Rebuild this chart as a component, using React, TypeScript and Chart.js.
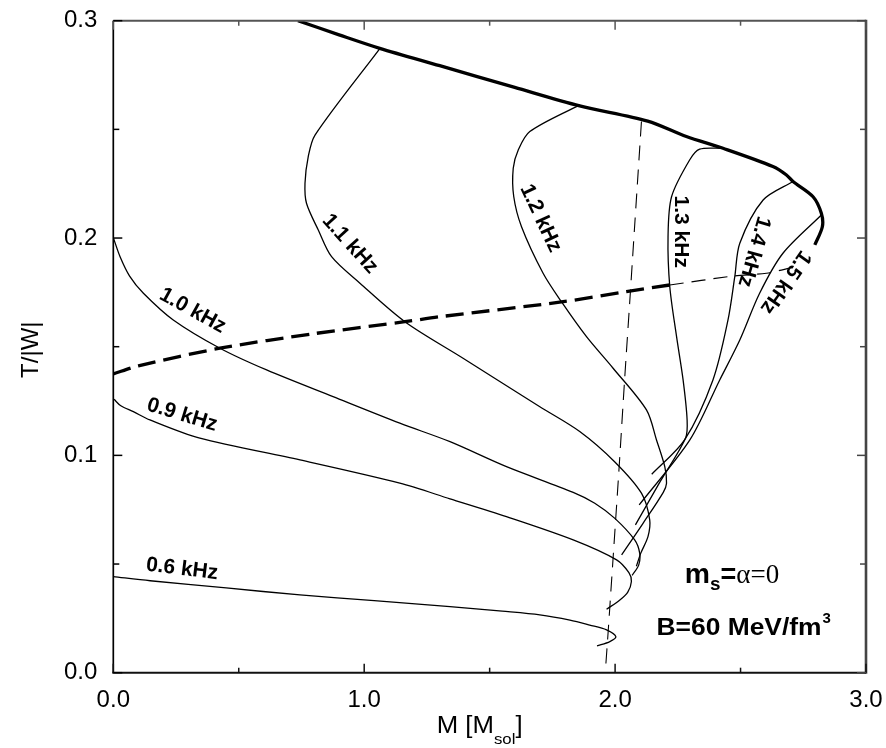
import React, { useEffect, useRef } from 'react';
import { Chart, registerables } from 'chart.js';

Chart.register(...registerables);

// ---------- data (M [M_sol], T/|W|) ----------
const f06: number[][] = [
  [0, 0.0442], [0.147, 0.0423], [0.45, 0.039], [0.744, 0.0358], [1.04, 0.0332], [1.342, 0.0304],
  [1.55, 0.0283], [1.7, 0.0266], [1.82, 0.0242], [1.899, 0.0219], [1.966, 0.0197], [2.003, 0.0166],
  [1.979, 0.0143], [1.928, 0.0123],
];
const f09: number[][] = [
  [0.003, 0.1258], [0.03, 0.1228], [0.08, 0.1201], [0.146, 0.1163], [0.345, 0.1079], [0.744, 0.0979],
  [1.142, 0.0872], [1.342, 0.08], [1.567, 0.0718], [1.833, 0.0611], [2.006, 0.0519], [2.055, 0.046],
  [2.065, 0.042], [2.05, 0.037], [2.019, 0.0335], [1.966, 0.0292],
];
const f10: number[][] = [
  [0, 0.2002], [0.027, 0.1914], [0.065, 0.1825], [0.12, 0.1746], [0.239, 0.1623], [0.425, 0.1493],
  [0.611, 0.1393], [0.876, 0.127], [1.142, 0.1148], [1.342, 0.1063], [1.567, 0.0948], [1.833, 0.083],
  [1.919, 0.078], [1.999, 0.071], [2.078, 0.0611], [2.098, 0.055], [2.094, 0.0495], [2.068, 0.0448],
];
const f11: number[][] = [
  [1.063, 0.2873], [0.804, 0.2474], [0.777, 0.2375], [0.764, 0.2252], [0.77, 0.216], [0.817, 0.2037],
  [0.87, 0.1914], [0.983, 0.1792], [1.162, 0.1615], [1.394, 0.1447], [1.52, 0.1355], [1.7, 0.1224],
  [1.859, 0.111], [1.998, 0.0971], [2.105, 0.0826], [2.138, 0.0703], [2.131, 0.0626], [2.102, 0.0549],
  [2.085, 0.049],
];
const f12: number[][] = [
  [1.859, 0.2613], [1.66, 0.249], [1.614, 0.2405], [1.594, 0.2321], [1.596, 0.2191], [1.627, 0.2052],
  [1.713, 0.1838], [1.786, 0.1707], [1.886, 0.1546], [1.992, 0.1401], [2.125, 0.1209], [2.165, 0.1071],
  [2.198, 0.0948], [2.205, 0.0872], [2.192, 0.083], [2.11, 0.0685], [2.026, 0.0542],
];
const f13: number[][] = [
  [2.43, 0.2413], [2.337, 0.2409], [2.297, 0.2359], [2.225, 0.219], [2.211, 0.2006], [2.218, 0.1776],
  [2.245, 0.1546], [2.271, 0.1347], [2.287, 0.1163], [2.281, 0.108], [2.18, 0.088], [2.081, 0.068],
];
const f14: number[][] = [
  [2.709, 0.226], [2.59, 0.2175], [2.497, 0.1976], [2.477, 0.1822], [2.45, 0.1623], [2.39, 0.1347],
  [2.277, 0.1071], [2.146, 0.0913],
];
const f15: number[][] = [
  [2.822, 0.2106], [2.669, 0.193], [2.576, 0.1746], [2.497, 0.1531], [2.417, 0.1347], [2.298, 0.1071],
  [2.096, 0.0772],
];
const massShedding: number[][] = [
  [0.736, 0.3], [0.9, 0.2935], [1.062, 0.2873], [1.301, 0.2793], [1.6, 0.2693], [1.859, 0.2608],
  [2.13, 0.2538], [2.284, 0.2467], [2.43, 0.2413], [2.629, 0.2329], [2.683, 0.229], [2.709, 0.226],
  [2.789, 0.219], [2.822, 0.2114], [2.826, 0.2052], [2.796, 0.1968],
];
const instabilityThick: number[][] = [
  [0, 0.1375], [0.1, 0.1412], [0.425, 0.1493], [0.8, 0.156], [1.162, 0.1615], [1.302, 0.1638],
  [1.793, 0.1707], [2.045, 0.1753], [2.218, 0.1784],
];
const instabilityThin: number[][] = [
  [2.218, 0.1784], [2.47, 0.1825], [2.603, 0.1838], [2.69, 0.186],
];
const verticalDashed: number[][] = [
  [2.105, 0.2536], [2.079, 0.2075], [2.058, 0.17], [2.038, 0.135], [2.016, 0.0945], [1.993, 0.0545],
  [1.973, 0.02], [1.962, 0.002],
];

const freqLabels = ['0.6 kHz', '0.9 kHz', '1.0 kHz', '1.1 kHz', '1.2 kHz', '1.3 kHz', '1.4 kHz', '1.5 kHz'];
const labelM = [0.274, 0.274, 0.316, 0.943, 1.703, 2.261, 2.553, 2.679];
const labelTW = [0.0477, 0.1186, 0.1666, 0.1973, 0.2091, 0.2029, 0.1937, 0.1797];
const labelAngle = [7, 17, 29, 48, 65, 90, 106, 125];

const xTickLabels = ['0.0', '1.0', '2.0', '3.0'];
const yTickLabels = ['0.0', '0.1', '0.2', '0.3'];

const SANS = '"Liberation Sans", Arial, sans-serif';
const SERIF = '"Liberation Serif", "Times New Roman", serif';

const toXY = (pts: number[][]) => pts.map(([x, y]) => ({ x, y }));

const isMajorX = (v: number) => Math.abs(v - Math.round(v)) < 1e-6;
const isMajorY = (v: number) => Math.abs(v * 10 - Math.round(v * 10)) < 1e-6;

const decorPlugin = {
  id: 'decor',
  afterDraw(chart: any) {
    const { ctx, chartArea: a, scales } = chart;
    const xs = scales.x;
    const ys = scales.y;
    ctx.save();
    ctx.lineCap = 'butt';

    // frame
    ctx.strokeStyle = '#555';
    ctx.lineWidth = 2;
    ctx.beginPath();
    ctx.moveTo(a.left, a.top);
    ctx.lineTo(a.right, a.top);
    ctx.stroke();
    ctx.strokeStyle = '#444';
    ctx.lineWidth = 2.6;
    ctx.beginPath();
    ctx.moveTo(a.right, a.top - 1);
    ctx.lineTo(a.right, a.bottom + 1);
    ctx.stroke();
    ctx.strokeStyle = '#000';
    ctx.lineWidth = 1.7;
    ctx.beginPath();
    ctx.moveTo(a.left, a.top);
    ctx.lineTo(a.left, a.bottom);
    ctx.stroke();
    ctx.strokeStyle = '#111';
    ctx.lineWidth = 2;
    ctx.beginPath();
    ctx.moveTo(a.left - 1, a.bottom);
    ctx.lineTo(a.right, a.bottom);
    ctx.stroke();

    // inward ticks
    ctx.lineWidth = 1.5;
    xs.ticks.forEach((t: any) => {
      const px = xs.getPixelForValue(t.value);
      const len = isMajorX(t.value) ? 9 : 5;
      ctx.strokeStyle = '#111';
      ctx.beginPath();
      ctx.moveTo(px, a.bottom);
      ctx.lineTo(px, a.bottom - len);
      ctx.stroke();
      ctx.strokeStyle = '#555';
      ctx.beginPath();
      ctx.moveTo(px, a.top);
      ctx.lineTo(px, a.top + len);
      ctx.stroke();
    });
    ys.ticks.forEach((t: any) => {
      const py = ys.getPixelForValue(t.value);
      const len = isMajorY(t.value) ? 9 : 6;
      ctx.strokeStyle = '#000';
      ctx.beginPath();
      ctx.moveTo(a.left, py);
      ctx.lineTo(a.left + len, py);
      ctx.stroke();
      ctx.strokeStyle = '#444';
      ctx.beginPath();
      ctx.moveTo(a.right, py);
      ctx.lineTo(a.right - len, py);
      ctx.stroke();
    });

    ctx.fillStyle = '#000';

    // curve labels
    ctx.font = `bold 21px ${SANS}`;
    ctx.textAlign = 'center';
    ctx.textBaseline = 'middle';
    freqLabels.forEach((txt, i) => {
      const px = xs.getPixelForValue(labelM[i]);
      const py = ys.getPixelForValue(labelTW[i]);
      ctx.save();
      ctx.translate(px, py);
      ctx.rotate((labelAngle[i] * Math.PI) / 180);
      ctx.fillText(txt, 0, 0);
      ctx.restore();
    });

    // helper for horizontally stretched text
    ctx.textAlign = 'left';
    ctx.textBaseline = 'alphabetic';
    const put = (txt: string, font: string, x: number, y: number, sx: number) => {
      ctx.font = font;
      const w = ctx.measureText(txt).width * sx;
      ctx.save();
      ctx.translate(x, y);
      ctx.scale(sx, 1);
      ctx.fillText(txt, 0, 0);
      ctx.restore();
      return w;
    };

    // annotation: m_s = alpha = 0
    let ax = xs.getPixelForValue(2.278);
    const ay = ys.getPixelForValue(0.0411);
    ax += put('m', `bold 27px ${SANS}`, ax, ay, 1.05);
    ax += put('s', `bold 18px ${SANS}`, ax, ay + 7, 1.05);
    ax += put('=', `bold 27px ${SANS}`, ax, ay, 1.0);
    put('\u03b1=0', `27px ${SERIF}`, ax, ay, 1.0);

    // annotation: B = 60 MeV/fm^3
    let bx = xs.getPixelForValue(2.165);
    const by = ys.getPixelForValue(0.01735);
    bx += put('B=60 MeV/fm', `bold 24px ${SANS}`, bx, by, 1.1);
    put('3', `bold 15px ${SANS}`, bx + 1, by - 12, 1.0);

    // x axis title
    const mainF = `23px ${SANS}`;
    const subF = `15px ${SANS}`;
    ctx.font = mainF;
    const w1 = ctx.measureText('M [M').width * 1.12;
    const w3 = ctx.measureText(']').width * 1.12;
    ctx.font = subF;
    const w2 = ctx.measureText('sol').width * 1.12;
    const cx = (a.left + a.right) / 2 - 10;
    let tx = cx - (w1 + w2 + w3) / 2;
    const tb = 733;
    tx += put('M [M', mainF, tx, tb, 1.12);
    tx += put('sol', subF, tx, tb + 11, 1.12);
    put(']', mainF, tx, tb, 1.12);

    // y axis title
    ctx.save();
    ctx.translate(31, (a.top + a.bottom) / 2 + 3);
    ctx.rotate(-Math.PI / 2);
    ctx.font = `24px ${SANS}`;
    ctx.textAlign = 'center';
    ctx.textBaseline = 'middle';
    ctx.fillText('T/|W|', 0, 0);
    ctx.restore();

    ctx.restore();
  },
};

const thin = (pts: number[][]) => ({
  data: toXY(pts),
  showLine: true,
  borderColor: '#000',
  borderWidth: 1.3,
  pointRadius: 0,
  tension: 0.3,
  fill: false,
});

export default function App() {
  const ref = useRef<HTMLCanvasElement>(null);

  useEffect(() => {
    const canvas = ref.current;
    if (!canvas) return;
    const chart = new Chart(canvas, {
      type: 'scatter',
      data: {
        datasets: [
          thin(f06),
          thin(f09),
          thin(f10),
          thin(f11),
          thin(f12),
          thin(f13),
          thin(f14),
          thin(f15),
          {
            data: toXY(massShedding),
            showLine: true,
            borderColor: '#000',
            borderWidth: 3.3,
            pointRadius: 0,
            tension: 0.3,
          },
          {
            data: toXY(instabilityThick),
            showLine: true,
            borderColor: '#000',
            borderWidth: 3.3,
            borderDash: [18, 8],
            pointRadius: 0,
            tension: 0.3,
          },
          {
            data: toXY(instabilityThin),
            showLine: true,
            borderColor: '#000',
            borderWidth: 1.2,
            borderDash: [14, 8],
            pointRadius: 0,
            tension: 0.3,
          },
          {
            data: toXY(verticalDashed),
            showLine: true,
            borderColor: '#000',
            borderWidth: 1.1,
            borderDash: [15, 9],
            pointRadius: 0,
            tension: 0.3,
          },
        ] as any,
      },
      options: {
        responsive: false,
        animation: false,
        devicePixelRatio: 1,
        layout: { padding: { top: 20.7, right: 20, left: 0, bottom: 0 } },
        plugins: { legend: { display: false }, tooltip: { enabled: false } },
        events: [],
        scales: {
          x: {
            type: 'linear',
            min: 0,
            max: 3,
            grid: { display: false, drawTicks: false, tickLength: 0 },
            border: { display: false },
            ticks: {
              stepSize: 0.5,
              autoSkip: false,
              maxRotation: 0,
              padding: 13,
              color: '#000',
              font: { family: SANS, size: 24 },
              callback: (v: any) => (isMajorX(Number(v)) ? xTickLabels[Math.round(Number(v))] : ''),
            },
            afterFit: (s: any) => {
              s.height = 748 - 672.7;
              s.paddingLeft = 0;
              s.paddingRight = 0;
            },
          },
          y: {
            type: 'linear',
            min: 0,
            max: 0.3,
            grid: { display: false, drawTicks: false, tickLength: 0 },
            border: { display: false },
            ticks: {
              stepSize: 0.05,
              autoSkip: false,
              padding: 16,
              color: '#000',
              font: { family: SANS, size: 24 },
              callback: (v: any) => (isMajorY(Number(v)) ? yTickLabels[Math.round(Number(v) * 10)] : ''),
            },
            afterFit: (s: any) => {
              s.width = 113.3;
              s.paddingTop = 0;
              s.paddingBottom = 0;
            },
          },
        },
      } as any,
      plugins: [decorPlugin],
    });
    return () => chart.destroy();
  }, []);

  return (
    <div style={{ position: 'absolute', left: 0, top: 0, width: 886, height: 748, background: '#fff' }}>
      <canvas ref={ref} width={886} height={748} style={{ width: 886, height: 748, display: 'block' }} />
    </div>
  );
}
